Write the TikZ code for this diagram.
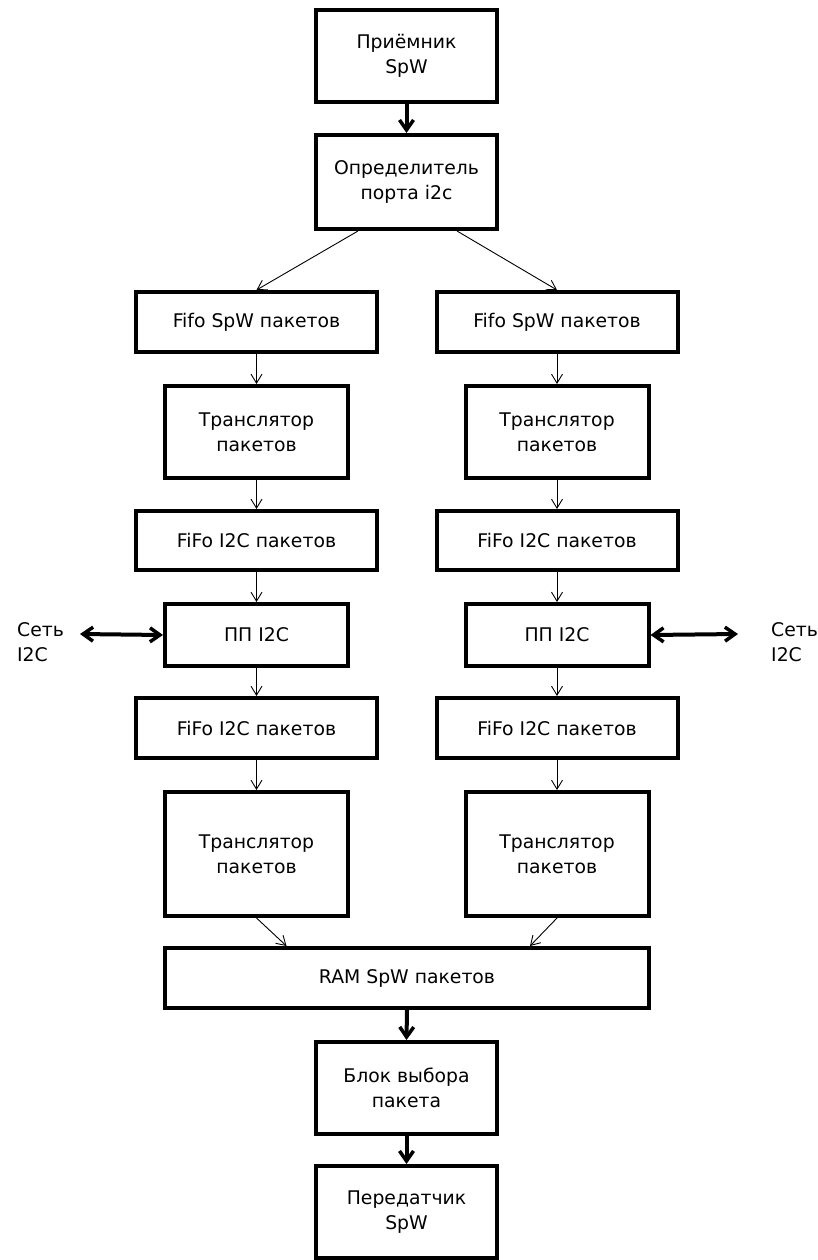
\documentclass[tikz,border=0pt]{standalone}
\usepackage{fontspec}
\setmainfont{DejaVu Sans}
\usetikzlibrary{arrows.meta}
\begin{document}
\begin{tikzpicture}[x=1pt,y=-1pt,
  blk/.style={draw,line width=4pt,inner sep=0pt,align=center,
    font=\fontsize{18.8}{25}\selectfont},
  thin/.style={line width=0.9pt,-{Straight Barb[length=9pt,width=11pt,line width=0.9pt]}},
  bold/.style={line width=4pt,-{Straight Barb[length=10pt,width=14pt,line width=3.5pt]}},
  bibold/.style={line width=4pt,{Straight Barb[length=10pt,width=14pt,line width=3.5pt]}-{Straight Barb[length=10pt,width=14pt,line width=3.5pt]}},
  lbl/.style={align=left,inner sep=0pt,font=\fontsize{18.8}{25}\selectfont}]
\useasboundingbox (0,0) rectangle (818,1260);
% central column
\node[blk,minimum width=181pt,minimum height=92pt] (rx) at (406.5,56) {Приёмник\\SpW};
\node[blk,minimum width=181pt,minimum height=94pt] (det) at (406.5,182) {Определитель\\порта i2c};
% left branch
\node[blk,minimum width=241pt,minimum height=60pt] (f1l) at (256.5,322) {Fifo SpW пакетов};
\node[blk,minimum width=183pt,minimum height=92pt] (t1l) at (256.5,432) {Транслятор\\пакетов};
\node[blk,minimum width=241pt,minimum height=59pt] (f2l) at (256.5,540.5) {FiFo I2C пакетов};
\node[blk,minimum width=183pt,minimum height=62pt] (ppl) at (256.5,635) {ПП I2C};
\node[blk,minimum width=241pt,minimum height=60pt] (f3l) at (256.5,728) {FiFo I2C пакетов};
\node[blk,minimum width=183pt,minimum height=124pt] (t2l) at (256.5,854) {Транслятор\\пакетов};
% right branch
\node[blk,minimum width=241pt,minimum height=60pt] (f1r) at (557,322) {Fifo SpW пакетов};
\node[blk,minimum width=183pt,minimum height=92pt] (t1r) at (557,432) {Транслятор\\пакетов};
\node[blk,minimum width=241pt,minimum height=59pt] (f2r) at (557,540.5) {FiFo I2C пакетов};
\node[blk,minimum width=183pt,minimum height=62pt] (ppr) at (557,635) {ПП I2C};
\node[blk,minimum width=241pt,minimum height=60pt] (f3r) at (557,728) {FiFo I2C пакетов};
\node[blk,minimum width=183pt,minimum height=124pt] (t2r) at (557,854) {Транслятор\\пакетов};
% merge and output
\node[blk,minimum width=484pt,minimum height=60pt] (ram) at (407,978) {RAM SpW пакетов};
\node[blk,minimum width=181pt,minimum height=92pt] (sel) at (406.5,1088) {Блок выбора\\пакета};
\node[blk,minimum width=181pt,minimum height=92pt] (tx) at (406.5,1212) {Передатчик\\SpW};
% external bus labels
\node[lbl,anchor=north west] (netl) at (17,622) {Сеть\\I2C};
\node[lbl,anchor=north west] (netr) at (771,622) {Сеть\\I2C};
\coordinate (netlp) at (80,634);
\coordinate (netrp) at (738,634);
% connectors
\draw[bold] (rx.south) -- (det.north);
\draw[thin] (det.south west) ++(44,0) coordinate (dl) -- (f1l.north);
\draw[thin] (det.south east) ++(-42,0) coordinate (dr) -- (f1r.north);
\foreach \a/\b in {f1l/t1l,t1l/f2l,f2l/ppl,ppl/f3l,f3l/t2l,f1r/t1r,t1r/f2r,f2r/ppr,ppr/f3r,f3r/t2r}
  \draw[thin] (\a.south) -- (\b.north);
\draw[thin] (t2l.south) -- ([xshift=30pt]t2l.south |- ram.north);
\draw[thin] (t2r.south) -- ([xshift=-27pt]t2r.south |- ram.north);
\draw[bibold] (netlp) -- (ppl.west);
\draw[bibold] (ppr.east) -- (netrp);
\draw[bold] (ram.south) -- (sel.north);
\draw[bold] (sel.south) -- (tx.north);
\end{tikzpicture}
\end{document}
